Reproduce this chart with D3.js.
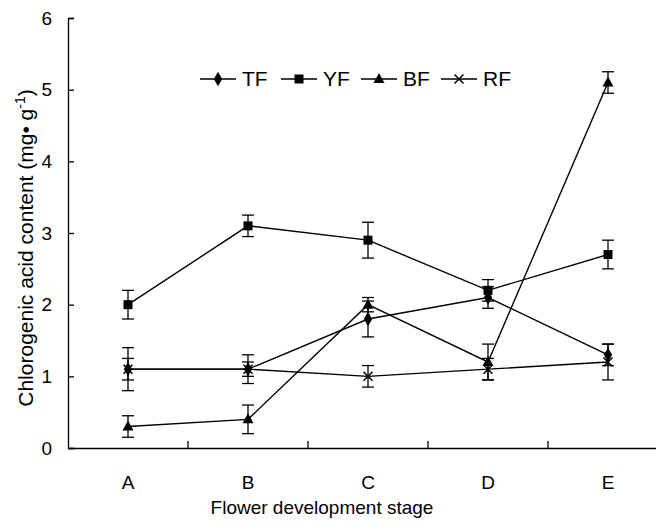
<!DOCTYPE html>
<html><head><meta charset="utf-8">
<script src="https://cdn.jsdelivr.net/npm/d3@7"></script>
<style>body{margin:0;background:#fff}svg{display:block}text{font-family:"Liberation Sans",Arial,sans-serif;fill:#000}</style>
</head><body><svg id="c" width="656" height="531"></svg>
<script>
const categories = ["A","B","C","D","E"];
const seriesNames = ["TF","YF","BF","RF"];
const TF = [1.1, 1.1, 1.8, 2.1, 1.3];
const TF_err = [0.3, 0.2, 0.25, 0.15, 0.15];
const YF = [2.0, 3.1, 2.9, 2.2, 2.7];
const YF_err = [0.2, 0.15, 0.25, 0.15, 0.2];
const BF = [0.3, 0.4, 2.0, 1.2, 5.1];
const BF_err = [0.15, 0.2, 0.1, 0.25, 0.15];
const RF = [1.1, 1.1, 1.0, 1.1, 1.2];
const RF_err = [0.15, 0.1, 0.15, 0.15, 0.25];
const yTicks = [0,1,2,3,4,5,6];

const series = [
  {name:"TF", values:TF, err:TF_err, sym:"diamond"},
  {name:"YF", values:YF, err:YF_err, sym:"square"},
  {name:"BF", values:BF, err:BF_err, sym:"triangle"},
  {name:"RF", values:RF, err:RF_err, sym:"cross"}
];

const svg = d3.select("#c");
const mLeft = 68, mRight = 668, mTop = 18, mBottom = 448;
const x = d3.scaleBand().domain(categories).range([mLeft, mRight]);
const y = d3.scaleLinear().domain([0,6]).range([mBottom, mTop]);
const cx = c => x(c) + x.bandwidth()/2;

function drawMarker(g, sym, px, py) {
  if (sym === "diamond") {
    g.append("path").attr("d", d3.symbol(d3.symbolDiamond, 60)()).attr("transform",`translate(${px},${py})`).attr("fill","#000");
  } else if (sym === "square") {
    g.append("rect").attr("x",px-4.5).attr("y",py-4.5).attr("width",9).attr("height",9).attr("fill","#000");
  } else if (sym === "triangle") {
    g.append("path").attr("d",`M${px},${py-6}L${px+5.5},${py+4}L${px-5.5},${py+4}Z`).attr("fill","#000");
  } else {
    g.append("path").attr("d",`M${px-4.5},${py-4.5}L${px+4.5},${py+4.5}M${px-4.5},${py+4.5}L${px+4.5},${py-4.5}`).attr("stroke","#000").attr("stroke-width",1.5);
  }
}

// axes
const yAxis = d3.axisLeft(y).tickValues(yTicks).tickSize(-6).tickPadding(16).tickFormat(d3.format("d"));
const gy = svg.append("g").attr("transform",`translate(${mLeft},0)`).call(yAxis);
gy.select(".domain").attr("stroke","#000").attr("stroke-width",1.3);
gy.selectAll(".tick line").attr("stroke","#000").attr("stroke-width",1.3);
gy.selectAll(".tick text").attr("font-size",19).attr("font-family","Liberation Sans, Arial, sans-serif");

const xAxis = d3.axisBottom(x).tickSize(0).tickPadding(28);
const gx = svg.append("g").attr("transform",`translate(0,${mBottom})`).call(xAxis);
gx.select(".domain").attr("stroke","#000").attr("stroke-width",1.3);
gx.selectAll(".tick text").attr("font-size",19).attr("font-family","Liberation Sans, Arial, sans-serif");
gx.selectAll(".bt").data(categories.slice(1)).enter().append("line")
  .attr("x1", d=>x(d)).attr("x2", d=>x(d)).attr("y1",0).attr("y2",-7).attr("stroke","#000").attr("stroke-width",1.3);

// lines
const line = d3.line().x((d,i)=>cx(categories[i])).y(d=>y(d));
series.forEach(s=>{
  svg.append("path").attr("d", line(s.values)).attr("fill","none").attr("stroke","#000").attr("stroke-width",1.4);
});
// error bars & markers
series.forEach(s=>{
  const g = svg.append("g");
  s.values.forEach((v,i)=>{
    const px = cx(categories[i]);
    const y1 = y(v + s.err[i]), y2 = y(v - s.err[i]);
    g.append("line").attr("x1",px).attr("x2",px).attr("y1",y1).attr("y2",y2).attr("stroke","#000").attr("stroke-width",1.3);
    [y1,y2].forEach(yy=>g.append("line").attr("x1",px-6).attr("x2",px+6).attr("y1",yy).attr("y2",yy).attr("stroke","#000").attr("stroke-width",1.3));
    drawMarker(g, s.sym, px, y(v));
  });
});

// legend
const legX = [200, 281, 361, 441];
const legY = 79;
series.forEach((s,i)=>{
  const g = svg.append("g");
  g.append("line").attr("x1",legX[i]).attr("x2",legX[i]+36).attr("y1",legY).attr("y2",legY).attr("stroke","#000").attr("stroke-width",1.4);
  drawMarker(g, s.sym, legX[i]+18, legY);
  g.append("text").attr("x",legX[i]+42).attr("y",legY+7).attr("font-size",21).text(s.name);
});

// axis titles
svg.append("text").attr("x", 322).attr("y", 514).attr("text-anchor","middle").attr("font-size",19).text("Flower development stage");
const yt = svg.append("text").attr("transform",`translate(33,248) rotate(-90)`).attr("text-anchor","middle").attr("font-size",21);
yt.append("tspan").text("Chlorogenic acid content (mg• g");
yt.append("tspan").attr("dy",-8).attr("font-size",14).text("-1");
yt.append("tspan").attr("dy",8).text(")");
</script></body></html>
